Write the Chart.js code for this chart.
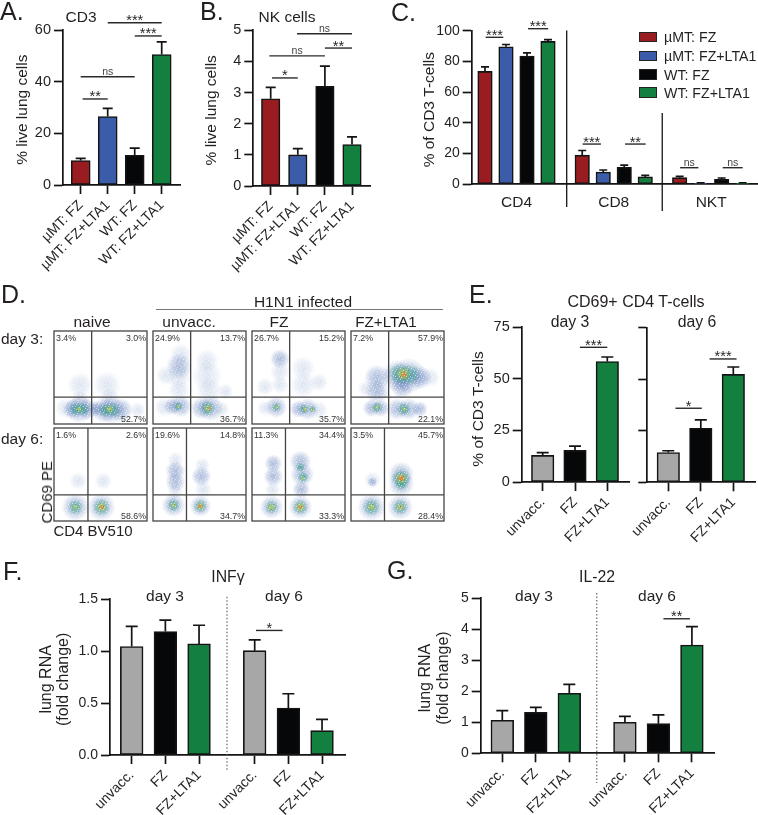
<!DOCTYPE html>
<html><head><meta charset="utf-8">
<style>
html,body{margin:0;padding:0;background:#fff;width:758px;height:815px;overflow:hidden}
#page{position:relative;width:758px;height:815px;overflow:hidden;font-family:"Liberation Sans",Arial,sans-serif;color:#231f20}
canvas{position:absolute}
.t{position:absolute;white-space:pre;line-height:1}
</style>
<script src="https://cdn.jsdelivr.net/npm/chart.js@4"></script>
</head><body><div id="page"></div>
<script>
// ---------- data ----------
const groupCats = ["µMT: FZ","µMT: FZ+LTA1","WT: FZ","WT: FZ+LTA1"];
const dayCats = ["unvacc.","FZ","FZ+LTA1"];
const cd3Vals = [9.5,26.5,11.5,50.5];
const cd3Tops = [10.3,29.7,14.3,55.4];
const nkVals = [2.8,1.0,3.2,1.33];
const nkTops = [3.17,1.2,3.85,1.58];
const subsetNames = ["CD4","CD8","NKT"];
const cd4Vals = [73.5,89.5,83.5,93];
const cd4Tops = [76.5,91,85.5,94.2];
const cd8Vals = [19,8,11,4.8];
const cd8Tops = [22,9.3,12.5,5.8];
const nktVals = [4.3,0.6,3.2,0.6];
const nktTops = [5.2,0.9,4.1,1.0];
const cd69Day3Vals = [12.9,15.3,58.4];
const cd69Day3Tops = [14.2,17.4,60.6];
const cd69Day6Vals = [14.4,26.2,52.3];
const cd69Day6Tops = [15.3,30.3,55.9];
const infDay3Vals = [1.045,1.19,1.07];
const infDay3Tops = [1.24,1.30,1.25];
const infDay6Vals = [1.005,0.453,0.235];
const infDay6Tops = [1.11,0.59,0.344];
const il22Day3Vals = [1.065,1.32,1.935];
const il22Day3Tops = [1.376,1.484,2.226];
const il22Day6Vals = [1.0,0.957,3.495];
const il22Day6Tops = [1.194,1.237,4.086];
const flowPct = {
  naive3:["3.4%","3.0%","52.7%"], unvacc3:["24.9%","13.7%","36.7%"], fz3:["26.7%","15.2%","35.7%"], lta3:["7.2%","57.9%","22.1%"],
  naive6:["1.6%","2.6%","58.6%"], unvacc6:["19.6%","14.8%","34.7%"], fz6:["11.3%","34.4%","33.3%"], lta6:["3.5%","45.7%","28.4%"]
};
// density patches of each cytometry plot: CD4, CD69, spread, density class
const naive3 = [[28,42,13,0],[57,42,14,0],[28,27,9,0],[60,28,10,0],[12,17,10,0],[90,15,8,0],[20,16,10,1],[27,16,14,1],[36,16,11,1],[46,16,8,1],[54,15,13,1],[62,15,14,1],[72,15,12,1],[24,16,7,2],[31,16,7,2],[55,15,7,2],[63,15,8,2],[27,16,3,3],[60,16,4,3]];
const unvacc3 = [[30,75,11,0],[28,62,13,1],[28,50,12,0],[28,36,11,0],[14,52,10,0],[58,68,12,0],[58,52,15,0],[60,36,13,0],[78,35,8,0],[12,18,10,0],[21,19,9,1],[30,19,11,1],[52,17,11,1],[62,17,13,1],[74,16,8,0],[27,19,5,2],[59,17,8,2],[27,19,2,3],[59,17,4,3],[60,17,1.5,4]];
const fz3 = [[30,70,10,1],[30,56,10,0],[30,42,9,0],[14,40,9,0],[55,60,12,0],[55,42,13,0],[72,45,9,0],[14,17,8,0],[26,18,11,1],[50,16,9,1],[60,16,11,1],[72,15,9,0],[26,18,5,2],[56,16,5,2],[65,16,4,2],[26,18,2,3],[57,16,2.5,3],[65,15,2,3]];
const lta3 = [[28,50,13,1],[28,35,12,1],[16,38,8,0],[85,50,10,0],[50,52,16,1],[62,52,18,1],[74,50,12,1],[55,40,12,1],[52,54,11,2],[63,53,11,2],[56,54,7,3],[57,53,3.5,4],[22,17,9,1],[32,17,9,1],[28,18,6,2],[28,18,2.5,3],[50,16,11,1],[62,16,11,1],[74,16,8,1],[57,16,7,2],[57,16,2.5,3]];
const naive6 = [[26,43,9,0],[53,43,9,0],[23,15,14,1],[51,15,14,1],[23,15,8,2],[51,15,9,2],[23,15,3,3],[51,15,5,3],[52,15,2.5,4]];
const unvacc6 = [[24,66,8,0],[24,54,10,1],[24,42,10,1],[24,32,8,0],[53,60,8,0],[52,48,10,1],[54,34,9,0],[22,17,12,1],[51,16,11,1],[22,17,7,2],[51,16,7,2],[22,17,3,3],[51,16,4,3],[51,16,2.5,4]];
const fz6 = [[23,62,9,1],[23,48,10,1],[22,34,8,0],[52,64,11,1],[54,50,12,1],[53,34,9,1],[52,58,5,2],[55,47,6,2],[55,46,2,3],[21,15,12,1],[52,15,12,1],[21,15,7,2],[52,15,8,2],[21,15,4,3],[52,15,5,3],[52,15,2.5,4]];
const lta6 = [[23,44,9,0],[23,42,5,1],[22,15,14,1],[54,50,13,1],[54,40,13,1],[53,15,13,1],[22,15,9,2],[54,46,10,2],[54,40,7,2],[53,15,8,2],[22,15,4,3],[54,46,6,3],[53,15,4,3],[54,46,3.5,4],[53,15,1.5,4]];
// fixed dot tile that gives the clouds their grain
const grainTile = [[1,2],[4,0],[7,3],[2,6],[9,7],[5,9],[0,10],[10,1],[6,5],[3,4],[8,10],[1,8],[5,2]];
const darkTile = [[0,0],[3,7],[6,2],[9,5],[2,3],[7,9],[10,8]];

// ---------- styling ----------
const RED="#981c20",BLUE="#3b5ca9",BLACK="#060708",GREEN="#13803f",GREY="#a7a7a7";
const FG="#231f20",LINE="#141414";
const groupColors=[RED,BLUE,BLACK,GREEN], dayColors=[GREY,BLACK,GREEN];
const FONT='"Liberation Sans"';
const page=document.getElementById('page');

function text(s,cx,cy,size,opt={}){
  const d=document.createElement('div');d.className='t';d.textContent=s;
  d.style.fontSize=size+'px';d.style.left=cx+'px';d.style.top=cy+'px';
  const al=opt.left?'0':'-50%';
  d.style.transform=`translate(${al},-50%)`;
  d.style.willChange='transform';
  page.appendChild(d);
}
function vtext(s,cx,cy,size){
  const d=document.createElement('div');d.className='t';d.textContent=s;
  d.style.fontSize=size+'px';d.style.writingMode='vertical-rl';d.style.transform='rotate(180deg)';
  page.appendChild(d);
  d.style.left=Math.round(cx-d.offsetWidth/2)+'px';d.style.top=Math.round(cy-d.offsetHeight/2)+'px';
}
function newCanvas(l,t,w,h){
  const c=document.createElement('canvas');c.width=w;c.height=h;
  c.style.left=l+'px';c.style.top=t+'px';c.style.width=w+'px';c.style.height=h+'px';
  page.appendChild(c);return c;
}
const ALW=1.7;
function barPanel(p){
  const cL=p.canvasL, cT=p.canvasT, cW=p.canvasR-cL, cH=p.canvasB-cT;
  const xs=p.xs, xmin=(p.pl-p.x0)/p.unit, xmax=(p.pr-p.x0)/p.unit;
  const deco={id:'deco',afterDatasetsDraw(ch){
    const c=ch.ctx,X=ch.scales.x,Y=ch.scales.y;
    c.save();c.strokeStyle=LINE;c.lineWidth=ALW;
    const cap=p.cap;
    xs.forEach((x,i)=>{
      const px=X.getPixelForValue(x);
      c.beginPath();c.moveTo(px,Y.getPixelForValue(p.vals[i]));c.lineTo(px,Y.getPixelForValue(p.tops[i]));
      c.moveTo(px-cap/2,Y.getPixelForValue(p.tops[i]));c.lineTo(px+cap/2,Y.getPixelForValue(p.tops[i]));c.stroke();
    });
    (p.seps||[]).forEach(s=>{
      c.save();c.beginPath();
      if(s[3]){c.setLineDash([1.5,2]);c.strokeStyle='#666';c.lineWidth=1.2;}else{c.lineWidth=1.3;}
      const px=X.getPixelForValue(s[0]);
      c.moveTo(px,Y.getPixelForValue(s[1]));c.lineTo(px,Y.getPixelForValue(s[2]));c.stroke();c.restore();
    });
    c.textAlign='center';c.fillStyle=FG;
    (p.brackets||[]).forEach(b=>{
      const a=X.getPixelForValue(b[0]),e=X.getPixelForValue(b[1]),y=Y.getPixelForValue(b[2]);
      c.strokeStyle='#2a2a2a';c.lineWidth=1.4;
      c.beginPath();c.moveTo(a,y);c.lineTo(e,y);c.stroke();
      if(b[3]==='ns'){c.font=`10.5px ${FONT}`;c.fillStyle='#444';c.fillText('ns',(a+e)/2,y-2);}
      else{c.font=`14.5px ${FONT}`;c.fillStyle=FG;c.fillText(b[3],(a+e)/2,y+2.5);}
    });
    c.restore();
  }};
  const yTitle=p.yTitle?{display:true,text:p.yTitle,color:FG,font:{family:FONT,size:p.titleSize||15.5,lineHeight:p.titleLH||1.1},padding:0}:{display:false};
  new Chart(newCanvas(cL,cT,cW,cH),{
    type:'bar',
    data:{datasets:[{data:xs.map((x,i)=>({x,y:p.vals[i]})),backgroundColor:p.colors,borderColor:LINE,borderWidth:1.6,borderSkipped:false,barThickness:p.barW}]},
    plugins:[deco],
    options:{responsive:false,animation:false,devicePixelRatio:1,
      layout:{padding:{left:0,right:cL+cW-p.pr,top:p.pt-cT,bottom:0}},
      plugins:{legend:{display:false},tooltip:{enabled:false}},
      scales:{
        x:{type:'linear',offset:false,min:xmin,max:xmax,
          grid:{offset:false,display:!p.noXTicks,drawOnChartArea:false,drawTicks:!p.noXTicks,tickLength:9,tickWidth:ALW,tickColor:LINE},
          border:{display:true,color:LINE,width:ALW},
          afterBuildTicks:s=>{s.ticks=p.tickPos.map(v=>({value:v}));},
          afterFit:s=>{s.height=cT+cH-p.pb;s.paddingLeft=s.paddingRight=s.paddingTop=s.paddingBottom=0;},
          ticks:{autoSkip:false,maxRotation:p.rot,minRotation:p.rot,padding:p.xPad,color:FG,font:{family:FONT,size:p.xSize||14},
            callback:(v,i)=>p.tickLabels[i]}
        },
        y:{type:'linear',min:0,max:p.ymax,
          grid:{display:true,drawOnChartArea:false,drawTicks:true,tickLength:9,tickWidth:ALW,tickColor:LINE},
          border:{display:true,color:LINE,width:ALW},
          afterFit:s=>{s.width=p.pl-cL;s.paddingLeft=s.paddingRight=s.paddingTop=s.paddingBottom=0;},
          title:yTitle,
          ticks:{stepSize:p.step,padding:3,color:FG,font:{family:FONT,size:p.ySize||14.5},
            callback:v=>p.noYLabels?'':(p.fmt?v.toFixed(p.fmt):v)}
        }
      }
    }
  });
}

// A
barPanel({canvasL:14,canvasT:0,canvasR:190,canvasB:290,pl:63,pr:180,pt:30,pb:185,x0:80.7,unit:27,barW:19,cap:10,
  xs:[0,1,2,3],vals:cd3Vals,tops:cd3Tops,colors:groupColors,ymax:60,step:20,rot:45,xPad:3,
  tickPos:[0,1,2,3],tickLabels:groupCats,yTitle:"% live lung cells ",
  brackets:[[1,3,62.8,'***'],[2,3,57.7,'***'],[0,2,41.9,'ns'],[0.07,1,33.3,'**']]});
// B
barPanel({canvasL:203,canvasT:0,canvasR:378,canvasB:290,pl:253.3,pr:370.7,pt:30.3,pb:186,x0:270.7,unit:27.1,barW:18.5,cap:10,
  xs:[0,1,2,3],vals:nkVals,tops:nkTops,colors:groupColors,ymax:5,step:1,rot:45,xPad:3,
  tickPos:[0,1,2,3],tickLabels:groupCats,yTitle:"% live lung cells ",
  brackets:[[0.97,3,4.89,'ns'],[2,3,4.43,'**'],[-0.05,2,4.18,'ns'],[0.05,1,3.47,'*']]});
// C
const cGroupStep=[0,4.63,9.27];
const cXs=[0,1,2].flatMap(g=>[0,1,2,3].map(i=>cGroupStep[g]+i));
barPanel({canvasL:421,canvasT:0,canvasR:758,canvasB:230,pl:471.7,pr:757.7,pt:30.7,pb:184.3,x0:485,unit:21,barW:14.5,cap:8,
  xs:cXs,vals:[...cd4Vals,...cd8Vals,...nktVals],tops:[...cd4Tops,...cd8Tops,...nktTops],colors:[...groupColors,...groupColors,...groupColors],
  ymax:100,step:20,rot:0,xPad:9,noXTicks:true,xSize:15.5,ySize:14,
  tickPos:cGroupStep.map(g=>g+1.5),tickLabels:subsetNames,yTitle:"% of CD3 T-cells ",
  seps:[[3.89,100.2,-14.8],[8.44,46.4,-17.4]],
  brackets:[[0.03,0.87,95.7,'***'],[2.05,3.01,101.3,'***'],[4.65,5.52,26.2,'***'],[6.67,7.65,26.2,'**'],[9.29,10.16,10.8,'ns'],[11.32,12.27,10.8,'ns']]});
// E day 3
barPanel({canvasL:470,canvasT:310,canvasR:632,canvasB:560,pl:521.7,pr:629,pt:327.3,pb:482,x0:542.7,unit:32.3,barW:22.5,cap:12,
  xs:[0,1,2],vals:cd69Day3Vals,tops:cd69Day3Tops,colors:dayColors,ymax:75,step:25,rot:45,xPad:3,
  tickPos:[0,1,2],tickLabels:dayCats,yTitle:"% of CD3 T-cells  ",
  brackets:[[1.15,2.0,65.3,'***']]});
// E day 6
barPanel({canvasL:632,canvasT:310,canvasR:758,canvasB:560,pl:647.3,pr:755,pt:327.6,pb:482.3,x0:668.3,unit:32.5,barW:22.5,cap:12,
  xs:[0,1,2],vals:cd69Day6Vals,tops:cd69Day6Tops,colors:dayColors,ymax:75,step:25,rot:45,xPad:3,noYLabels:true,
  tickPos:[0,1,2],tickLabels:dayCats,
  brackets:[[1.27,2.1,59.8,'***'],[0.22,1.03,35.9,'*']]});
// F
const dayXs=[0,1,2,3.653,4.653,5.653];
barPanel({canvasL:38,canvasT:585,canvasR:352,canvasB:815,pl:110,pr:345,pt:599.3,pb:755,x0:131.7,unit:33.67,barW:22.7,cap:12,
  xs:dayXs,vals:[...infDay3Vals,...infDay6Vals],tops:[...infDay3Tops,...infDay6Tops],colors:[...dayColors,...dayColors],
  ymax:1.5,step:0.5,fmt:1,rot:45,xPad:3,ySize:14,titleSize:16,titleLH:1.05,
  tickPos:dayXs,tickLabels:[...dayCats,...dayCats],yTitle:["lung RNA ","(fold change) "],
  seps:[[2.83,1.525,-0.153,true]],brackets:[[3.69,4.48,1.2,'*']]});
// G
const dayXsG=[0,1,2,3.66,4.66,5.66];
barPanel({canvasL:417,canvasT:585,canvasR:722,canvasB:815,pl:480.7,pr:714.3,pt:598.3,pb:753.3,x0:502.3,unit:33.5,barW:22.7,cap:12,
  xs:dayXsG,vals:[...il22Day3Vals,...il22Day6Vals],tops:[...il22Day3Tops,...il22Day6Tops],colors:[...dayColors,...dayColors],
  ymax:5,step:1,rot:45,xPad:3,ySize:14,titleSize:16,titleLH:1.1,
  tickPos:dayXsG,tickLabels:[...dayCats,...dayCats],yTitle:["lung RNA ","(fold change) "],
  seps:[[2.82,5.17,-0.96,true]],brackets:[[4.81,5.6,4.34,'**']]});

// ---------- cytometry plots ----------
const LEVEL=[[120,150,200,.24],[70,105,178,.44],[50,160,130,.62],[195,210,80,.82],[235,120,45,.92]];
function makeTile(dots,color){
  const t=document.createElement('canvas');t.width=11;t.height=11;
  const g=t.getContext('2d');g.fillStyle=color;dots.forEach(d=>g.fillRect(d[0],d[1],1,1));
  return t;
}
const grainCanvas=makeTile(grainTile,'rgba(0,0,0,.55)');
const darkCanvas=makeTile(darkTile,'rgba(35,55,125,.4)');
function flowPlot(l,t,blobs,gateX,gateY,pct){
  const size=95;
  const deco={id:'flowDeco',afterDatasetsDraw(ch){
    const c=ch.ctx,X=ch.scales.x,Y=ch.scales.y;
    c.save();
    c.globalCompositeOperation='source-atop';c.fillStyle=c.createPattern(darkCanvas,'repeat');c.fillRect(0,0,size,size);
    c.globalCompositeOperation='destination-out';c.fillStyle=c.createPattern(grainCanvas,'repeat');c.fillRect(0,0,size,size);
    c.restore();
    c.save();c.strokeStyle='#444';c.lineWidth=1.3;
    c.strokeRect(X.left,Y.top,X.right-X.left,Y.bottom-Y.top);
    c.beginPath();c.moveTo(X.getPixelForValue(gateX),Y.top);c.lineTo(X.getPixelForValue(gateX),Y.bottom);
    c.moveTo(X.left,Y.getPixelForValue(gateY));c.lineTo(X.right,Y.getPixelForValue(gateY));c.stroke();
    c.fillStyle='#333';c.font=`8.8px ${FONT}`;c.textBaseline='alphabetic';
    c.textAlign='left';c.fillText(pct[0],X.left+2,Y.top+9.5);
    c.textAlign='right';c.fillText(pct[1],X.right-1,Y.top+9.5);c.fillText(pct[2],X.right-1,Y.bottom-2.5);
    c.restore();
  }};
  new Chart(newCanvas(l-1,t-1,size,size),{
    type:'bubble',
    data:{datasets:[{data:blobs.map(b=>({x:b[0],y:b[1],r:b[2]})),
      borderWidth:0,
      backgroundColor(ctx){
        if(ctx.type!=='data')return 'transparent';
        const b=blobs[ctx.dataIndex],ch=ctx.chart;
        const px=ch.scales.x.getPixelForValue(b[0]),py=ch.scales.y.getPixelForValue(b[1]);
        const [r,gg,bb,a]=LEVEL[b[3]];
        if(!isFinite(px)||!isFinite(py))return `rgba(${r},${gg},${bb},${a})`;
        const g=ch.ctx.createRadialGradient(px,py,0,px,py,Math.max(1,b[2]));
        g.addColorStop(0,`rgba(${r},${gg},${bb},${a})`);
        g.addColorStop(.55,`rgba(${r},${gg},${bb},${a*.6})`);
        g.addColorStop(1,`rgba(${r},${gg},${bb},0)`);
        return g;
      }}]},
    plugins:[deco],
    options:{responsive:false,animation:false,devicePixelRatio:1,
      layout:{padding:1,autoPadding:false},
      plugins:{legend:{display:false},tooltip:{enabled:false}},
      scales:{x:{type:'linear',min:0,max:100,display:false},y:{type:'linear',min:0,max:100,display:false}}}
  });
}
const colX=[54,153,252,351], rowY=[331,428];
flowPlot(colX[0],rowY[0],naive3,40.5,29,flowPct.naive3);
flowPlot(colX[1],rowY[0],unvacc3,40.5,29,flowPct.unvacc3);
flowPlot(colX[2],rowY[0],fz3,40.5,29,flowPct.fz3);
flowPlot(colX[3],rowY[0],lta3,40.5,29,flowPct.lta3);
flowPlot(colX[0],rowY[1],naive6,36.5,28,flowPct.naive6);
flowPlot(colX[1],rowY[1],unvacc6,36,28,flowPct.unvacc6);
flowPlot(colX[2],rowY[1],fz6,36,28,flowPct.fz6);
flowPlot(colX[3],rowY[1],lta6,36,28,flowPct.lta6);

// ---------- text ----------
const L=25;
text("A.",0,10.5,L,{left:1});text("B.",200,11,L,{left:1});text("C.",391,11.5,L,{left:1});
text("D.",1,294,L,{left:1});text("E.",469,294,L,{left:1});text("F.",3,570.5,L,{left:1});text("G.",387,570,L,{left:1});
text("CD3",81,17,15.5);text("NK cells",287,17,15.5);
text("H1N1 infected",303,301.5,15.5);
text("naive",91.7,321.5,15.5);text("unvacc.",189.3,321.5,15.5);text("FZ",279.3,321.5,15.5);text("FZ+LTA1",386,321.5,15.2);
text("day 3:",1,339,15.5,{left:1});text("day 6:",1,439,15.5,{left:1});
vtext("CD69 PE",46,492,15);text("CD4 BV510",93,530,15);
const rule=document.createElement('div');rule.style.cssText='position:absolute;left:156px;top:309px;width:287px;height:1px;background:#777';page.appendChild(rule);
text("CD69+ CD4 T-cells",636,301.5,16);text("day 3",570,321.5,15.8);text("day 6",696.7,321.5,15.8);
text("INFγ",228.3,577,15.8);text("day 3",165,596,15.5);text("day 6",284.3,596,15.5);
text("IL-22",596.7,577,15.8);text("day 3",534,596,15.5);text("day 6",657.3,596,15.5);
// legend
const legendY=[37,56.3,74.5,92.5];
groupCats.forEach((n,i)=>{
  const s=document.createElement('div');
  s.style.cssText=`position:absolute;left:639px;top:${legendY[i]-5.5}px;width:18px;height:10.5px;box-sizing:border-box;border:1.5px solid #222;background:${groupColors[i]}`;
  page.appendChild(s);
  text(n,664,legendY[i],14.2,{left:1});
});
</script></body></html>
